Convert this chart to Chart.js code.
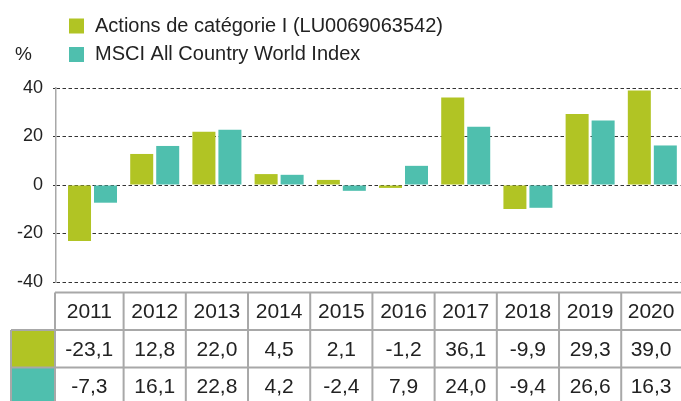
<!DOCTYPE html>
<html>
<head>
<meta charset="utf-8">
<script src="https://cdn.jsdelivr.net/npm/chart.js@4"></script>
<style>
html, body { margin: 0; padding: 0; background: #fff; overflow: hidden; }
</style>
</head>
<body>
<canvas id="chart" width="681" height="401"></canvas>
<script>
// data
var years = ["2011", "2012", "2013", "2014", "2015", "2016", "2017", "2018", "2019", "2020"];
var fundValues = [-23.1, 12.8, 22.0, 4.5, 2.1, -1.2, 36.1, -9.9, 29.3, 39.0];
var indexValues = [-7.3, 16.1, 22.8, 4.2, -2.4, 7.9, 24.0, -9.4, 26.6, 16.3];
var seriesNames = ["Actions de catégorie I (LU0069063542)", "MSCI All Country World Index"];
var seriesColors = ["#b1c424", "#4fbfae"];
var yTicks = [-40, -20, 0, 20, 40];

var FONT = '"Liberation Sans", Arial, sans-serif';
Chart.defaults.font.family = FONT;

function fmt(v) {
	return v.toFixed(1).replace(".", ",");
}

// legend, "%" label and the value table under the bars
var tablePlugin = {
	id: "tableAndLegend",
	afterDraw: function(chart) {
		var ctx = chart.ctx;
		var x = chart.scales.x;
		ctx.save();

		ctx.font = "20px " + FONT;
		ctx.textBaseline = "middle";
		ctx.textAlign = "left";
		for (var k = 0; k < seriesNames.length; k++) {
			var cy = 26 + k * 28.5;
			ctx.fillStyle = seriesColors[k];
			ctx.fillRect(69, cy - 7.5, 15, 15);
			ctx.fillStyle = "#222";
			ctx.fillText(seriesNames[k], 95, cy);
		}
		ctx.font = "19px " + FONT;
		ctx.fillText("%", 15, 54.5);

		// table
		var top = 292.5, rowH = 37.5, right = chart.width;
		var edges = [];
		for (var i = 0; i <= years.length; i++) edges.push(x.getPixelForValue(i - 0.5));
		edges[0] = 55;
		var rows = [years, fundValues.map(fmt), indexValues.map(fmt)];

		// colour swatches
		for (var r = 1; r < rows.length; r++) {
			ctx.fillStyle = seriesColors[r - 1];
			ctx.fillRect(11, top + r * rowH, 44, rowH);
		}

		ctx.strokeStyle = "#a8a8a8";
		ctx.lineWidth = 2;
		ctx.beginPath();
		for (var r = 0; r <= rows.length; r++) {
			var y = top + r * rowH;
			ctx.moveTo(r === 0 ? 55 : 11, y);
			ctx.lineTo(right, y);
		}
		for (var i = 0; i < edges.length; i++) {
			ctx.moveTo(edges[i], top);
			ctx.lineTo(edges[i], top + rows.length * rowH);
		}
		ctx.moveTo(11, top + rowH);
		ctx.lineTo(11, top + rows.length * rowH);
		ctx.stroke();

		ctx.fillStyle = "#222";
		ctx.font = "21px " + FONT;
		ctx.textAlign = "center";
		for (var r = 0; r < rows.length; r++) {
			for (var i = 0; i < years.length; i++) {
				var cx = (edges[i] + Math.min(edges[i + 1], right)) / 2;
				ctx.fillText(rows[r][i], cx, top + r * rowH + rowH / 2 + 1);
			}
		}
		ctx.restore();
	}
};

new Chart(document.getElementById("chart"), {
	type: "bar",
	data: {
		labels: years,
		datasets: [{
			label: seriesNames[0],
			data: fundValues.map(function(v, i) { return { x: i, y: v }; }),
			backgroundColor: seriesColors[0]
		}, {
			label: seriesNames[1],
			data: indexValues.map(function(v, i) { return { x: i, y: v }; }),
			backgroundColor: seriesColors[1]
		}]
	},
	options: {
		responsive: false,
		animation: false,
		devicePixelRatio: 1,
		layout: { padding: { top: 88, bottom: 119, left: 0, right: 0 } },
		datasets: { bar: { categoryPercentage: 0.836, barPercentage: 0.885 } },
		plugins: {
			legend: { display: false },
			tooltip: { enabled: false }
		},
		scales: {
			x: { type: "linear", min: -0.587, max: 9.461, offset: false, display: false },
			y: {
				min: -40,
				max: 40,
				afterBuildTicks: function(scale) {
					scale.ticks = yTicks.map(function(v) { return { value: v }; });
				},
				afterFit: function(scale) { scale.width = 56; },
				grid: { color: "#333", lineWidth: 1, tickLength: 3, tickColor: "#333" },
				border: { display: true, color: "#a8a8a8", width: 1.5, dash: [3.5, 2.5] },
				ticks: { color: "#222", font: { size: 18 }, padding: 10 }
			}
		}
	},
	plugins: [tablePlugin]
});
</script>
</body>
</html>
